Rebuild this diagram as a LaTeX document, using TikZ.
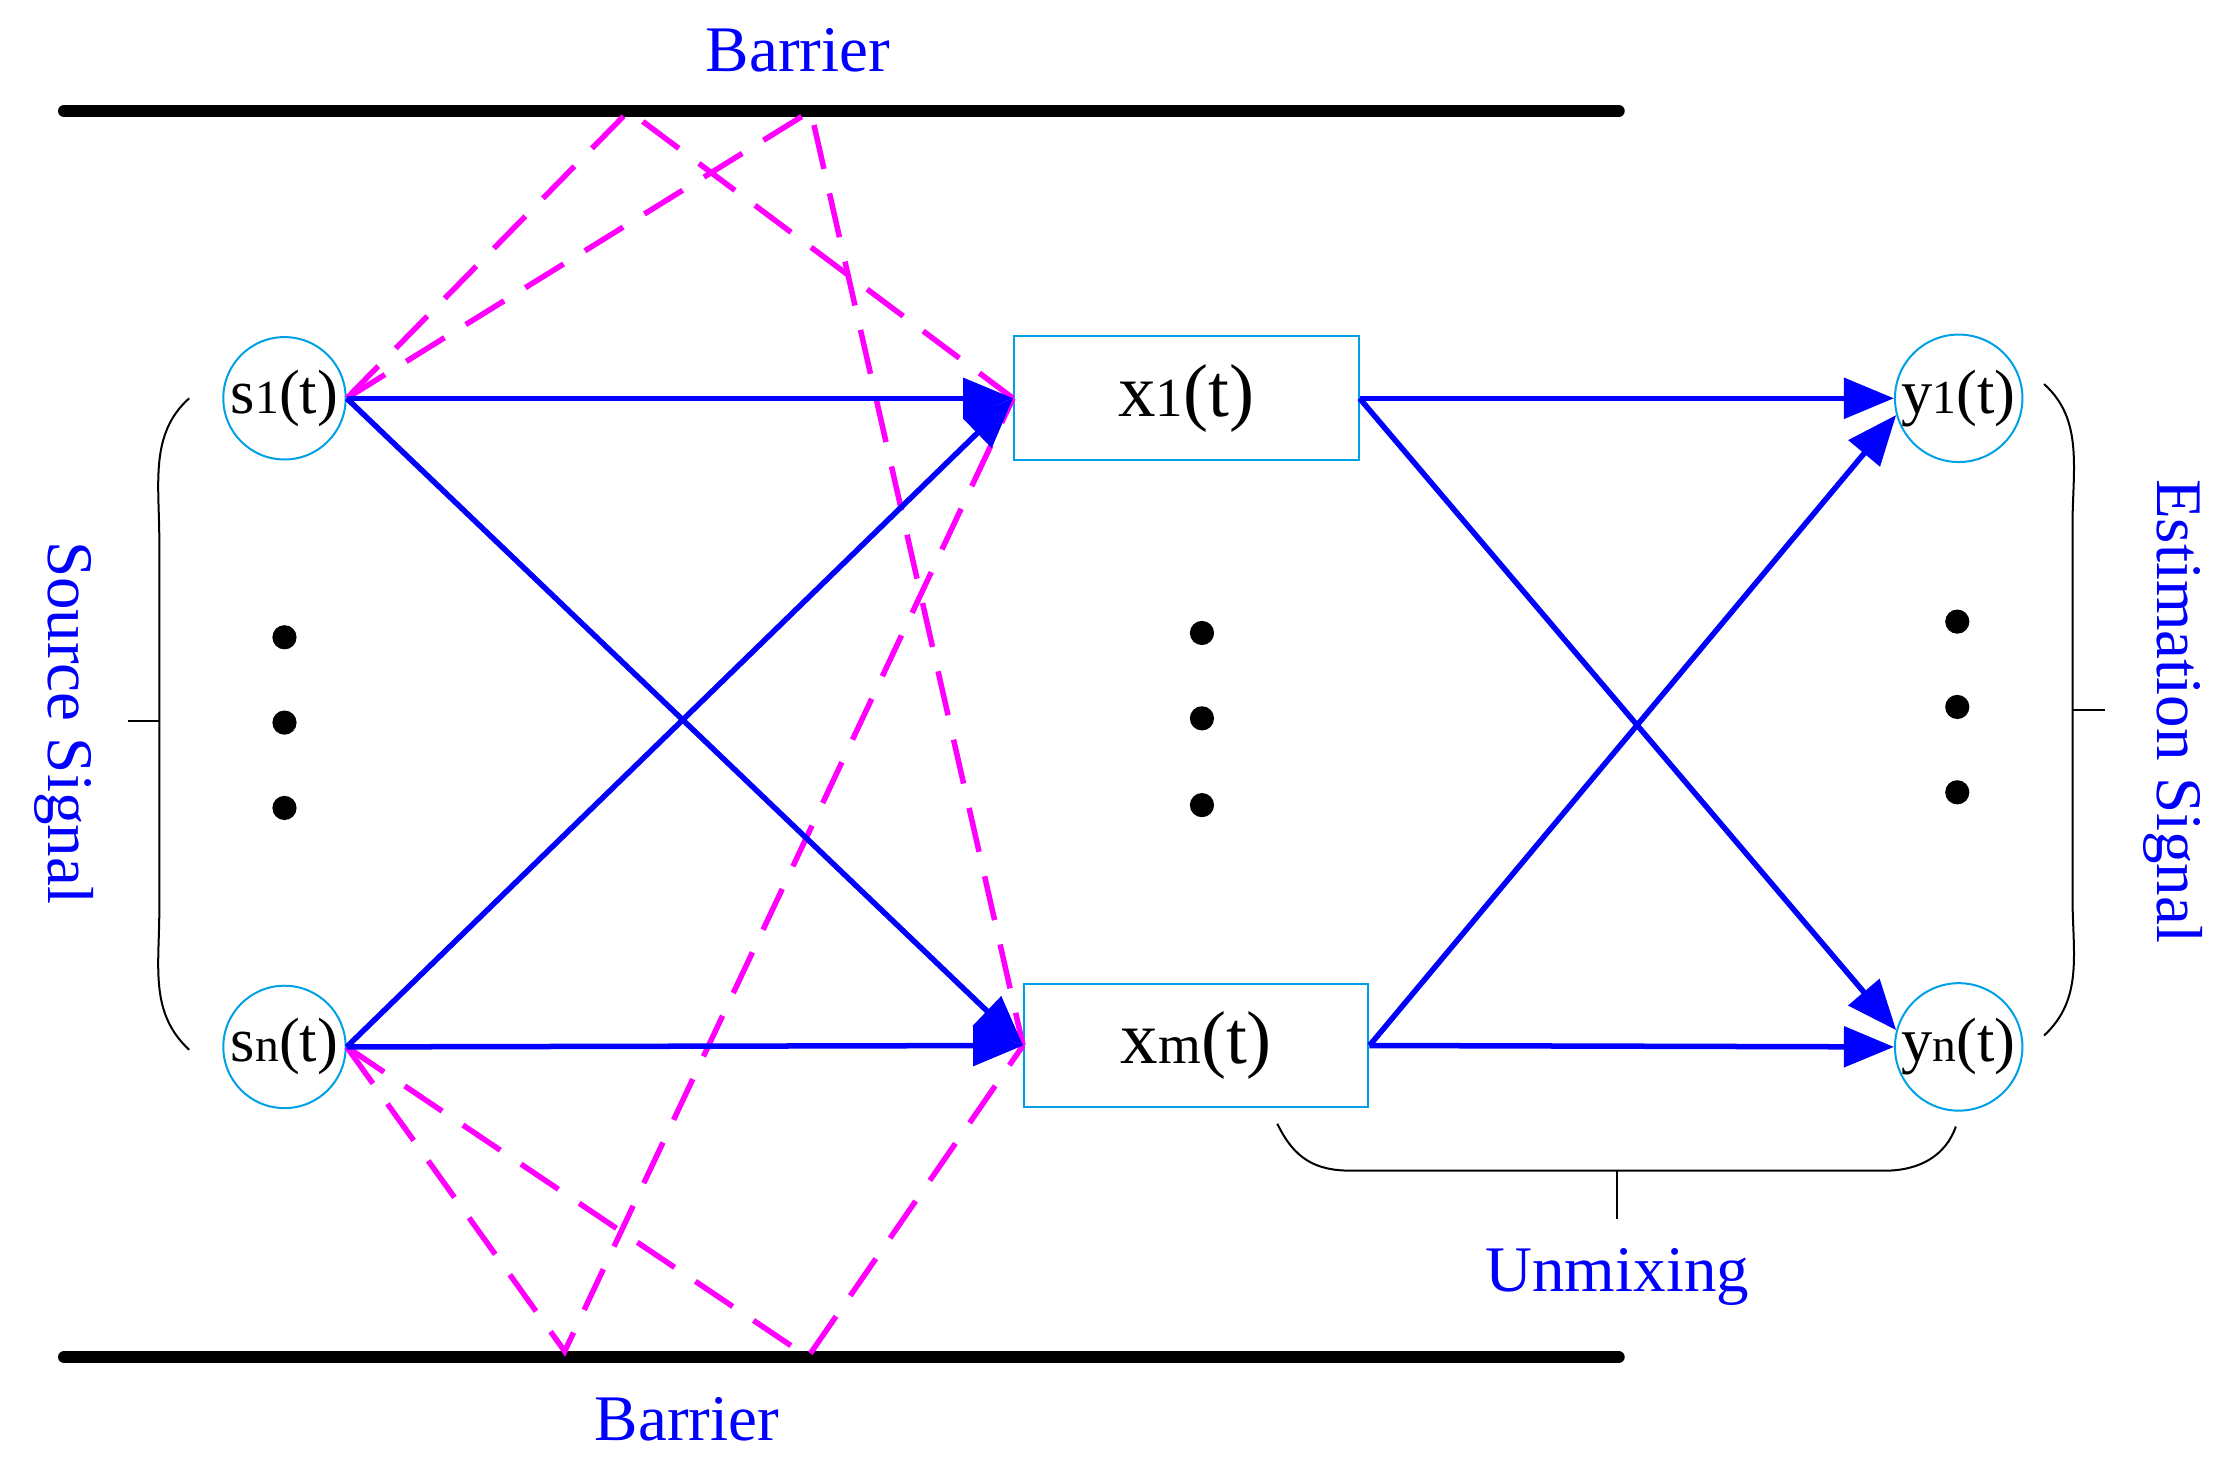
\documentclass[tikz,border=0pt]{standalone}
\usepackage{fontspec}
\setmainfont{Liberation Serif}
\usetikzlibrary{arrows.meta}
\definecolor{cyanline}{RGB}{0,160,230}
\definecolor{pink}{RGB}{255,0,255}
\tikzset{
	sig/.style={draw=cyanline,circle,minimum size=0.86cm,inner sep=0pt,font=\fontsize{12.5}{12.5}\selectfont},
	mix/.style={draw=cyanline,minimum width=2.42cm,minimum height=0.87cm,inner sep=0pt,font=\fontsize{15}{15}\selectfont},
	path/.style={blue,line width=1.1pt,-{Triangle[length=10pt,width=8pt]}},
	echo/.style={pink,line width=1.1pt,dash pattern=on 9pt off 5pt},
	lbl/.style={blue,font=\fontsize{13}{13}\selectfont},
	dot/.style={fill=black,circle,minimum size=0.17cm,inner sep=0pt}
}
\begin{document}
\begin{tikzpicture}[x=0.01cm,y=-0.01cm]
	\useasboundingbox (0,0) rectangle (1560,1033);
	% barriers
	\draw[line width=2.4pt,line cap=round] (45,78) -- (1138,78);
	\draw[line width=2.4pt,line cap=round] (45,954) -- (1138,954);
	\node[lbl] (bartop) at (561,35) {Barrier};
	\node[lbl] (barbot) at (483,998) {Barrier};

	\node[sig] (s1) at (200,280) {s{\fontsize{9.5}{9.5}\selectfont 1}(t)};
	\node[sig] (sn) at (200,736) {s{\fontsize{9.5}{9.5}\selectfont n}(t)};
	\node[mix] (x1) at (834,280) {x{\fontsize{11}{11}\selectfont 1}(t)};
	\node[mix] (xm) at (841,735) {x{\fontsize{11}{11}\selectfont m}(t)};
	\node[sig] (y1) at (1377,280) {y{\fontsize{9.5}{9.5}\selectfont 1}(t)};
	\node[sig] (yn) at (1377,736) {y{\fontsize{9.5}{9.5}\selectfont n}(t)};

	\foreach \x/\y in {200/448,200/508,200/568,845/445,845/505,845/566,1376/437,1376/497,1376/557}
		\node[dot] at (\x,\y) {};

	% reflections
	\coordinate (r1) at (442,78);
	\coordinate (r2) at (570,78);
	\coordinate (r3) at (397,950);
	\coordinate (r4) at (568,954);
	\draw[echo] (s1.east) -- (r1) -- (x1.west);
	\draw[echo] (s1.east) -- (r2) -- (xm.west);
	\draw[echo] (sn.east) -- (r3) -- (x1.west);
	\draw[echo] (sn.east) -- (r4) -- (xm.west);

	% direct paths
	\draw[path] (s1.east) -- (x1.west);
	\draw[path] (s1.east) -- (xm.west);
	\draw[path] (sn.east) -- (x1.west);
	\draw[path] (sn.east) -- (xm.west);
	\draw[path] (x1.east) -- (y1.west);
	\draw[path] (x1.east) -- (yn.165);
	\draw[path] (xm.east) -- (y1.195);
	\draw[path] (xm.east) -- (yn.west);

	% brackets
	\draw (133,280) .. controls (105,305) and (112,340) .. (112,380) -- (112,640) .. controls (112,680) and (105,712) .. (133,738);
	\draw (90,507) -- (112,507);
	\draw (1437,270) .. controls (1465,295) and (1457,330) .. (1457,370) -- (1457,630) .. controls (1457,670) and (1465,702) .. (1437,728);
	\draw (1457,499) -- (1480,499);
	\draw (898,790) .. controls (910,815) and (925,823) .. (950,823) -- (1325,823) .. controls (1350,823) and (1368,812) .. (1375,792);
	\draw (1137,823) -- (1137,857);

	\node[lbl,rotate=-90] (src) at (45,508) {Source Signal};
	\node[lbl,rotate=-90] (est) at (1528,500) {Estimation Signal};
	\node[lbl] (unmix) at (1137,898) {Unmixing};
\end{tikzpicture}
\end{document}
